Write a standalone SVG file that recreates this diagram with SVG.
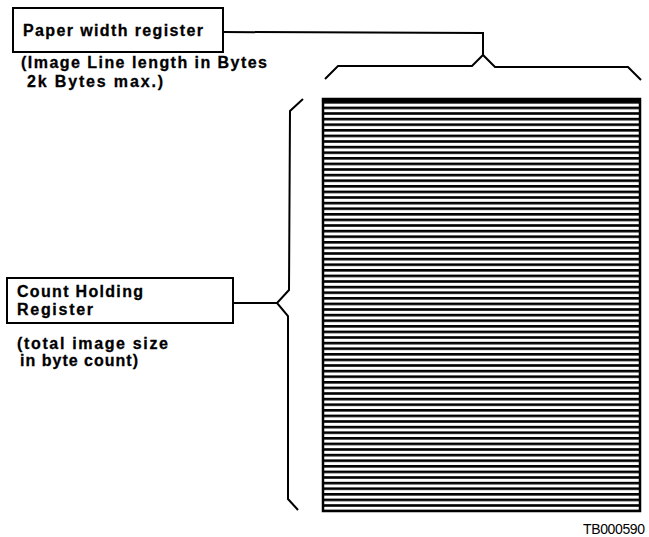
<svg xmlns="http://www.w3.org/2000/svg" width="649" height="537" viewBox="0 0 649 537">
<style>
.box{fill:#fff;stroke:#000;stroke-width:2}
.ln{fill:none;stroke:#000;stroke-width:2;stroke-linejoin:miter}
.lb{font-family:"Liberation Sans",Arial,sans-serif;font-weight:bold;font-size:16px;fill:#000;stroke:#000;stroke-width:0.3}
.id{font-family:"Liberation Sans",Arial,sans-serif;font-size:14px;fill:#000}
</style>
<defs>
<pattern id="stripes" patternUnits="userSpaceOnUse" x="0" y="101" width="20" height="5.6">
<rect x="0" y="0" width="20" height="2.6" fill="#000"/>
</pattern>
</defs>
<rect width="649" height="537" fill="#fff"/>
<g id="image">
<rect x="323" y="99" width="317" height="412" fill="url(#stripes)"/>
<rect x="323" y="99" width="317" height="412" fill="none" stroke="#000" stroke-width="2.5"/>
<line x1="323" y1="100" x2="640" y2="100" stroke="#000" stroke-width="3"/>
</g>
<g id="paper-width">
<rect class="box" x="13" y="8" width="210" height="44"/>
<text class="lb" x="23" y="36" textLength="180" lengthAdjust="spacing">Paper width register</text>
<text class="lb" x="21" y="68" textLength="246" lengthAdjust="spacing">(Image Line length in Bytes</text>
<text class="lb" x="27" y="87" textLength="136" lengthAdjust="spacing">2k Bytes max.)</text>
</g>
<g id="count-holding">
<rect class="box" x="7" y="278" width="226" height="45"/>
<text class="lb" x="17" y="297" textLength="126" lengthAdjust="spacing">Count Holding</text>
<text class="lb" x="17" y="315" textLength="76" lengthAdjust="spacing">Register</text>
<text class="lb" x="17" y="349" textLength="151" lengthAdjust="spacing">(total image size</text>
<text class="lb" x="20" y="366" textLength="118" lengthAdjust="spacing">in  byte count)</text>
</g>
<g id="label">
<text class="id" x="583" y="534" textLength="62" lengthAdjust="spacing">TB000590</text>
</g>
<g id="connectors">
<polyline class="ln" points="223,32 483,33 483,55"/>
<polyline class="ln" points="325,79 338,66 472,66 483,55 495,67 628,67 641,80"/>
<polyline class="ln" points="233,303 277,303"/>
<polyline class="ln" points="303,99 290,111 289,290 277,303 288,316 288,499 298,510"/>
</g>
</svg>
